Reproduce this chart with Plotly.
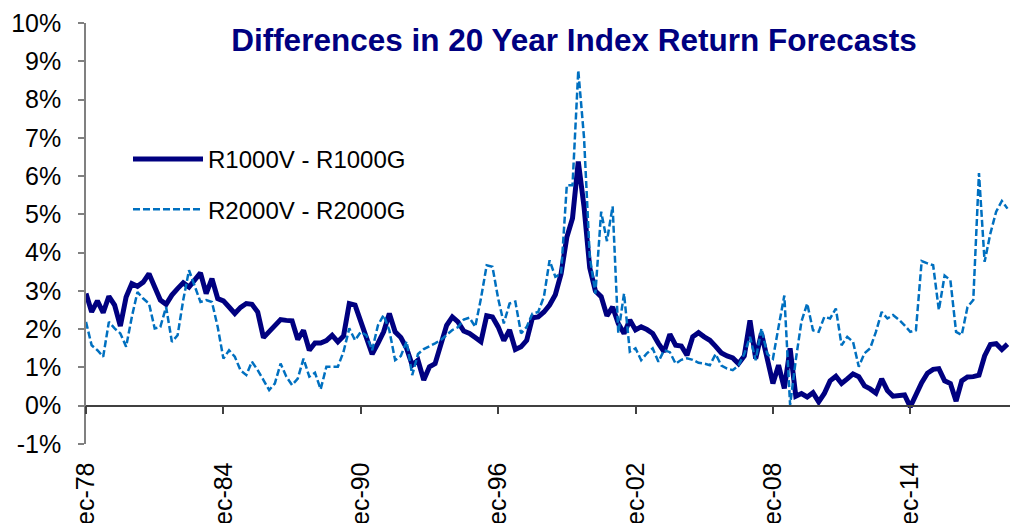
import plotly.graph_objects as go

# Quarterly observations, Dec-1978 .. Mar-2019
n_obs = 162
dates = [f"{1978 + (11 + 3 * i) // 12}-{(11 + 3 * i) % 12 + 1:02d}-01" for i in range(n_obs)]

r1000_spread = [
    2.93, 2.45, 2.74, 2.43, 2.86, 2.63, 2.08, 2.84, 3.19, 3.12,
    3.23, 3.45, 3.10, 2.76, 2.65, 2.89, 3.06, 3.21, 3.10, 3.28,
    3.47, 2.93, 3.32, 2.80, 2.74, 2.58, 2.41, 2.57, 2.67, 2.65,
    2.45, 1.78, 1.93, 2.08, 2.25, 2.23, 2.22, 1.73, 1.97, 1.45,
    1.64, 1.64, 1.70, 1.84, 1.67, 1.82, 2.67, 2.63, 2.23, 1.76,
    1.35, 1.63, 1.93, 2.41, 1.93, 1.78, 1.50, 1.06, 1.19, 0.67,
    1.02, 1.10, 1.55, 2.10, 2.32, 2.19, 1.95, 1.89, 1.78, 1.67,
    2.35, 2.32, 2.06, 1.70, 1.98, 1.47, 1.54, 1.71, 2.30, 2.32,
    2.45, 2.63, 2.90, 3.45, 4.40, 4.90, 6.38, 5.20, 3.60, 3.00,
    2.85, 2.35, 2.58, 2.15, 1.89, 2.24, 1.98, 2.06, 1.99, 1.89,
    1.63, 1.41, 1.87, 1.58, 1.56, 1.32, 1.80, 1.91, 1.80, 1.71,
    1.55, 1.38, 1.30, 1.25, 1.10, 1.30, 2.23, 1.23, 1.89, 1.28,
    0.58, 1.06, 0.45, 1.50, 0.25, 0.32, 0.23, 0.34, 0.10, 0.32,
    0.65, 0.77, 0.58, 0.70, 0.83, 0.76, 0.52, 0.44, 0.33, 0.70,
    0.40, 0.25, 0.26, 0.28, -0.03, 0.32, 0.60, 0.85, 0.95, 0.97,
    0.65, 0.58, 0.12, 0.65, 0.75, 0.76, 0.80, 1.30, 1.60, 1.62,
    1.47, 1.61,
]

r2000_spread = [
    2.19, 1.58, 1.45, 1.28, 2.19, 2.02, 1.89, 1.54, 2.32, 2.97,
    2.80, 2.67, 2.02, 2.06, 2.58, 1.67, 1.84, 2.76, 3.54, 3.10,
    2.71, 2.76, 2.71, 2.06, 1.23, 1.45, 1.28, 0.92, 0.80, 1.15,
    0.93, 0.67, 0.41, 0.58, 1.10, 0.76, 0.54, 0.71, 1.23, 0.76,
    0.86, 0.43, 1.02, 1.02, 1.02, 1.41, 2.02, 1.71, 1.93, 1.84,
    1.45, 2.10, 2.37, 1.97, 1.19, 1.30, 1.68, 0.80, 1.35, 1.48,
    1.55, 1.63, 1.72, 1.85, 1.98, 2.05, 2.25, 2.30, 2.06, 2.80,
    3.67, 3.63, 2.80, 2.15, 2.67, 2.72, 1.89, 2.06, 2.41, 2.45,
    2.85, 3.80, 3.37, 3.45, 5.76, 5.76, 8.76, 7.00, 3.90, 2.93,
    5.07, 4.30, 5.21, 1.90, 2.93, 1.41, 1.50, 1.19, 1.37, 1.50,
    1.15, 1.45, 1.40, 1.10, 1.20, 1.24, 1.20, 1.12, 1.10, 1.06,
    1.35, 1.05, 0.97, 0.93, 1.05, 1.35, 1.80, 1.19, 2.02, 1.35,
    1.23, 2.06, 2.88, 0.02, 1.20, 2.20, 2.67, 1.97, 1.93, 2.32,
    2.28, 2.54, 1.58, 1.80, 1.67, 1.02, 1.37, 1.50, 1.93, 2.45,
    2.28, 2.37, 2.25, 2.10, 1.93, 1.97, 3.78, 3.72, 3.67, 2.50,
    3.40, 3.28, 1.93, 1.85, 2.58, 2.76, 6.08, 3.76, 4.50, 5.07,
    5.35, 5.15,
]

tick_dates = ["1978-12-01", "1984-12-01", "1990-12-01", "1996-12-01",
              "2002-12-01", "2008-12-01", "2014-12-01"]
tick_labels = ["Dec-78", "Dec-84", "Dec-90", "Dec-96", "Dec-02", "Dec-08", "Dec-14"]
y_ticks = list(range(-1, 11))
y_tick_labels = [f"{v}%" for v in y_ticks]

FONT = "Liberation Sans, Arial, sans-serif"
NAVY = "#000080"
BLUE = "#0070C0"

W, H = 1010, 523

fig = go.Figure()
fig.add_trace(go.Scatter(
    x=dates, y=r1000_spread, mode="lines", name="R1000V - R1000G",
    line=dict(color=NAVY, width=5), legendgroup="a",
))
fig.add_trace(go.Scatter(
    x=dates, y=r2000_spread, mode="lines", name="R2000V - R2000G",
    line=dict(color=BLUE, width=2.5, dash="7px,3px"), legendgroup="b",
))

fig.update_layout(
    width=W, height=H,
    margin=dict(l=86, r=0, t=23, b=79, autoexpand=False),
    paper_bgcolor="white", plot_bgcolor="white",
    font=dict(family=FONT, size=25, color="black"),
    title=dict(
        text="<b>Differences in 20 Year Index Return Forecasts</b>",
        font=dict(family=FONT, size=31.5, color=NAVY),
        x=574 / W, xanchor="center", xref="container",
        y=1 - 40 / H, yanchor="middle", yref="container",
        automargin=False,
    ),
    showlegend=True,
    legend=dict(
        x=(128 - 86) / 924, xanchor="left",
        y=(444 - 137) / 421, yanchor="top",
        font=dict(family=FONT, size=24, color="black"),
        bgcolor="rgba(0,0,0,0)",
        itemwidth=70,
        tracegroupgap=16,
    ),
    xaxis=dict(
        type="date",
        range=["1978-12-01", "2019-04-10"],
        tickvals=tick_dates, ticktext=tick_labels,
        tickangle=-90,
        showgrid=False, zeroline=False,
        showline=True, linecolor="#404040", linewidth=1.5,
        ticks="outside", ticklen=8, tickcolor="#404040", tickwidth=1.5,
        anchor="free", position=1 / 11,
        ticklabelstandoff=38,
        automargin=False,
        tickfont=dict(family=FONT, size=25, color="black"),
    ),
    yaxis=dict(
        range=[-1, 10],
        tickvals=y_ticks, ticktext=y_tick_labels,
        showgrid=False, zeroline=False,
        showline=True, linecolor="#808080", linewidth=1.5,
        ticks="outside", ticklen=6, tickcolor="#808080", tickwidth=1.5,
        ticklabelstandoff=12,
        automargin=False,
        tickfont=dict(family=FONT, size=25, color="black"),
    ),
)

# remove the browser's default 8px page margin so the figure fills the window
fig.write_html(
    "out.html",
    config={"displayModeBar": False},
    post_script="document.body.style.margin='0';document.body.style.overflow='hidden';",
)
